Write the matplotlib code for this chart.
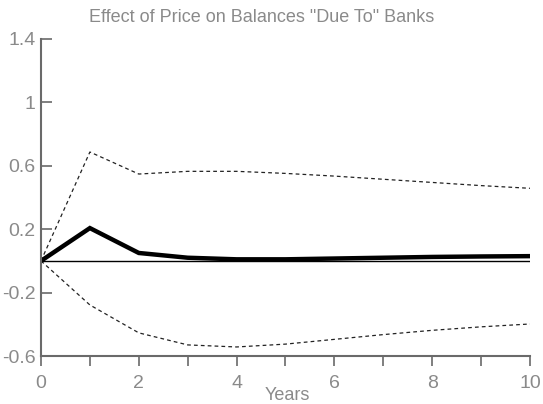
import numpy as np
import matplotlib.pyplot as plt

years = np.arange(0, 11)
response = [0.0, 0.207, 0.05, 0.02, 0.01, 0.01, 0.015, 0.02, 0.025, 0.028, 0.03]
upper = [0.0, 0.687, 0.548, 0.565, 0.565, 0.552, 0.535, 0.515, 0.495, 0.475, 0.458]
lower = [0.0, -0.278, -0.454, -0.53, -0.543, -0.525, -0.495, -0.465, -0.438, -0.416, -0.398]

yticks = [1.4, 1.0, 0.6, 0.2, -0.2, -0.6]
ytick_labels = ["1.4", "1", "0.6", "0.2", "-0.2", "-0.6"]
xticks = np.arange(0, 11)
xtick_labels = ["0", "", "2", "", "4", "", "6", "", "8", "", "10"]

plt.rcParams['font.family'] = ['Liberation Sans', 'DejaVu Sans']
txt = '#8a8a8a'
axis_col = '#6a6a6a'

fig = plt.figure(figsize=(5.43, 4.04), dpi=100)
ax = fig.add_axes([0.0755, 0.1188, 0.9005, 0.7847])

ax.plot(years, [0] * len(years), color='black', lw=1.0)
ax.plot(years, upper, color='#222222', lw=0.9, ls=(0, (3, 2.5)))
ax.plot(years, lower, color='#222222', lw=0.9, ls=(0, (3, 2.5)))
ax.plot(years, response, color='black', lw=3.2, solid_joinstyle='miter')

ax.set_xlim(0, 10)
ax.set_ylim(-0.6, 1.4)
ax.set_yticks(yticks)
ax.set_yticklabels(ytick_labels)
ax.set_xticks(xticks)
ax.set_xticklabels(xtick_labels)

for s in ['top', 'right']:
    ax.spines[s].set_visible(False)
for s in ['left', 'bottom']:
    ax.spines[s].set_color(axis_col)
    ax.spines[s].set_linewidth(1.5)

ax.tick_params(axis='y', direction='in', length=8, width=1.2, color=axis_col,
               labelcolor=txt, labelsize=14, pad=4)
ax.tick_params(axis='x', direction='out', length=7, width=1.2, color=axis_col,
               labelcolor=txt, labelsize=14, pad=7)

# x label placed in figure coords so it stays inside the canvas
fig.text(287 / 543, 1 - 395 / 404, 'Years', color=txt, fontsize=13,
         ha='center', va='center')
fig.text(262 / 543, 1 - 18 / 404, 'Effect of Price on Balances "Due To" Banks',
         color=txt, fontsize=13, ha='center', va='center')

fig.savefig('out.png', dpi=100)
